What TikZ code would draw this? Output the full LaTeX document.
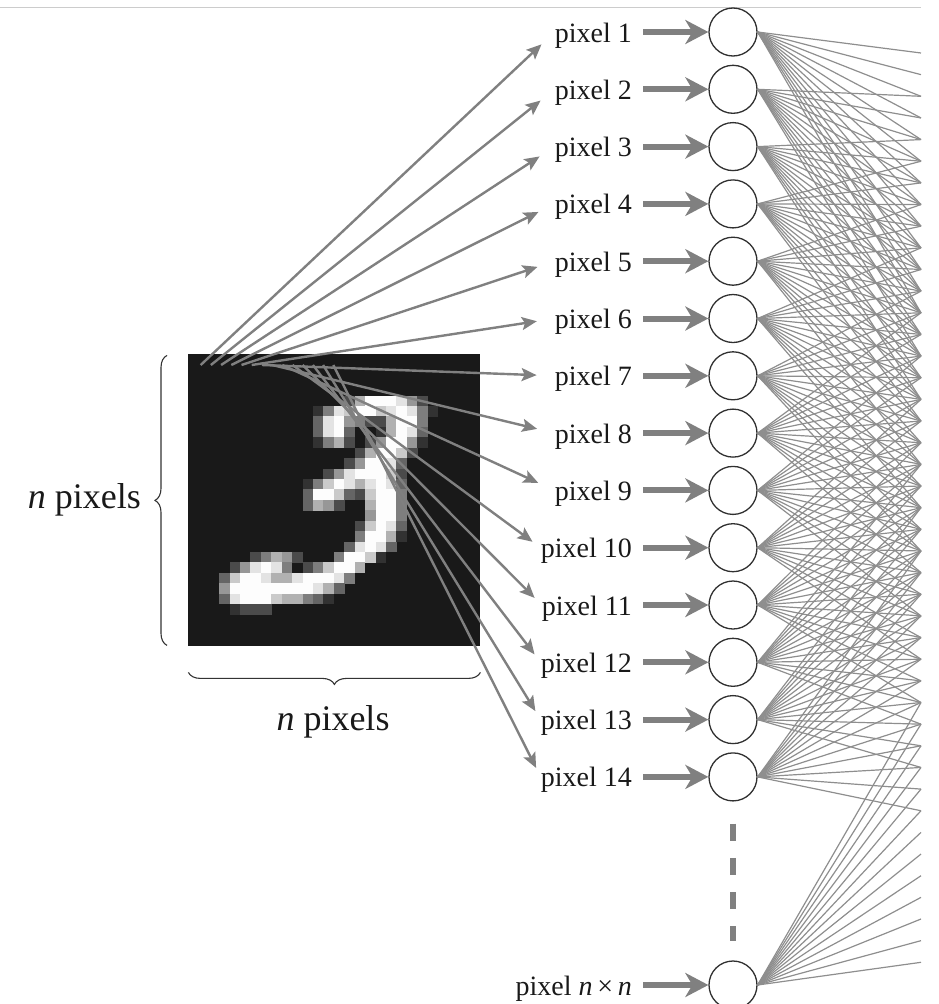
\documentclass[tikz,border=0pt]{standalone}
\usepackage{fontspec}
\setmainfont{Liberation Serif}
\usetikzlibrary{arrows.meta,decorations.pathreplacing}

\definecolor{imgbg}{HTML}{191919}
\definecolor{arrgray}{HTML}{808080}
\definecolor{linegray}{HTML}{8E8E8E}
\definecolor{ringcol}{HTML}{303030}
\definecolor{rulegray}{HTML}{CCCCCC}

\tikzset{
  lbl/.style={anchor=east, inner sep=0pt, text height=20pt, text depth=0pt,
    font=\fontsize{28}{30}\selectfont, text=black!90},
  bigtxt/.style={inner sep=0pt, font=\fontsize{36}{40}\selectfont, text=black!90},
  neuron/.style={circle, draw=ringcol, line width=1.3pt, minimum size=48pt, inner sep=0pt},
  feed/.style={draw=arrgray, line width=6pt,
    -{Stealth[length=23pt, width=24pt, inset=7pt]}, shorten <=11pt},
  pick/.style={draw=arrgray, line width=2.4pt,
    -{Stealth[length=15pt, width=13pt, inset=3pt]}},
  conn/.style={draw=linegray, line width=1.2pt},
  bracestyle/.style={draw=black!80, line width=1.1pt, decorate,
    decoration={brace, amplitude=12pt}},
  gap/.style={draw=arrgray, line width=6pt, dash pattern=on 17pt off 17.3pt,
    shorten <=22pt, shorten >=19pt}
}

\begin{document}
\begin{tikzpicture}[x=1pt, y=-1pt]
\useasboundingbox (0,0) rectangle (939,1004);

% thin rule along the top
\draw[rulegray, line width=1pt] (0,7) -- (921,7);

% the 28 x 28 input image of a handwritten 3
\node[fill=imgbg, minimum width=292pt, minimum height=292pt, inner sep=0pt,
      anchor=north west] (img) at (188,354) {};
\foreach \r/\c/\v in {
  4/15/2, 4/16/6, 4/17/9, 4/18/9, 4/19/9, 4/20/8, 4/21/5, 4/22/2,
  5/12/1, 5/13/4, 5/14/8, 5/15/7, 5/16/9, 5/17/9, 5/18/7, 5/19/8, 5/20/9, 5/21/8, 5/22/4, 5/23/1,
  6/12/3, 6/13/8, 6/14/9, 6/15/5, 6/16/4, 6/17/2, 6/18/2, 6/19/6, 6/20/9, 6/21/9, 6/22/4,
  7/12/3, 7/13/8, 7/14/9, 7/15/3, 7/18/1, 7/19/6, 7/20/9, 7/21/8, 7/22/3,
  8/12/1, 8/13/4, 8/14/6, 8/15/2, 8/17/2, 8/18/5, 8/19/9, 8/20/9, 8/21/5, 8/22/1,
  9/16/2, 9/17/6, 9/18/9, 9/19/9, 9/20/7, 9/21/2,
  10/15/2, 10/16/5, 10/17/9, 10/18/9, 10/19/8, 10/20/3,
  11/13/2, 11/14/5, 11/15/8, 11/16/9, 11/17/9, 11/18/9, 11/19/7, 11/20/2,
  12/11/1, 12/12/4, 12/13/7, 12/14/9, 12/15/8, 12/16/6, 12/17/8, 12/18/9, 12/19/8, 12/20/3,
  13/11/3, 13/12/9, 13/13/9, 13/14/7, 13/15/3, 13/16/2, 13/17/7, 13/18/9, 13/19/9, 13/20/4,
  14/11/3, 14/12/6, 14/13/5, 14/14/2, 14/17/6, 14/18/9, 14/19/9, 14/20/4,
  15/17/5, 15/18/9, 15/19/9, 15/20/4,
  16/16/2, 16/17/7, 16/18/9, 16/19/8, 16/20/3,
  17/16/4, 17/17/9, 17/18/9, 17/19/6, 17/20/1,
  18/15/3, 18/16/8, 18/17/9, 18/18/8, 18/19/3,
  19/6/2, 19/7/4, 19/8/6, 19/9/5, 19/10/2, 19/14/4, 19/15/9, 19/16/9, 19/17/7, 19/18/1,
  20/4/2, 20/5/5, 20/6/8, 20/7/9, 20/8/8, 20/9/4, 20/11/2, 20/12/4, 20/13/7, 20/14/9, 20/15/9, 20/16/6,
  21/3/3, 21/4/7, 21/5/9, 21/6/9, 21/7/8, 21/8/6, 21/9/6, 21/10/8, 21/11/9, 21/12/9, 21/13/9, 21/14/8, 21/15/4,
  22/3/5, 22/4/9, 22/5/9, 22/6/9, 22/7/9, 22/8/9, 22/9/9, 22/10/9, 22/11/9, 22/12/8, 22/13/6, 22/14/3,
  23/3/3, 23/4/8, 23/5/9, 23/6/9, 23/7/9, 23/8/7, 23/9/6, 23/10/6, 23/11/4, 23/12/3, 23/13/1,
  24/4/1, 24/5/2, 24/6/2, 24/7/2}{
  \pgfmathtruncatemacro\p{\v*11}
  \fill[white!\p!imgbg] ({188+\c*10.4286-0.2},{354+\r*10.4286-0.2}) rectangle ++(10.83,10.83);
}

% braces and their labels
\draw[bracestyle] (img.south west) ++(-21,-1) coordinate (lb0) -- ++(0,-290) coordinate (lb1);
\node[bigtxt, anchor=base east] (lefttxt) at (141,508) {\textit{n} pixels};
\draw[bracestyle] (img.south east) ++(0,26) coordinate (bb0) -- ++(-292,0) coordinate (bb1);
\node[bigtxt, anchor=base] (bottomtxt) at (333,730) {\textit{n} pixels};

% input neurons, their labels and feed arrows
\foreach \i in {1,...,14} {
  \pgfmathsetmacro\yy{32+57.3*(\i-1)}
  \pgfmathsetmacro\gp{\i<10 ? 18 : 10}
  \node[neuron] (c\i) at (733,\yy) {};
  \node[lbl] (l\i) at (632,\yy) {pixel \i};
  \draw[feed] (l\i.east) -- (c\i.west);
  \coordinate (s\i) at ({190.5+10.2*\i},365);
  \draw[pick, shorten >=\gp pt] (s\i) -- (l\i.west);
}
\node[neuron] (cN) at (733,985) {};
\node[lbl] (lN) at (632,985) {pixel \textit{n}\,×\,\textit{n}};
\draw[feed] (lN.east) -- (cN.west);

% the omitted neurons
\draw[gap] (c14.south) -- (cN.north);

% fan-out towards the next layer
\foreach \k in {0,...,42} \coordinate (t\k) at (921,{53+21.65*\k});
\foreach \i in {1,...,14} {
  \pgfmathtruncatemacro\lo{round(23*(\i-1)/13)}
  \pgfmathtruncatemacro\hi{\lo+12}
  \foreach \k in {\lo,...,\hi} \draw[conn] (c\i.east) -- (t\k);
}
\foreach \k in {30,...,42} \draw[conn] (cN.east) -- (t\k);

\end{tikzpicture}
\end{document}
